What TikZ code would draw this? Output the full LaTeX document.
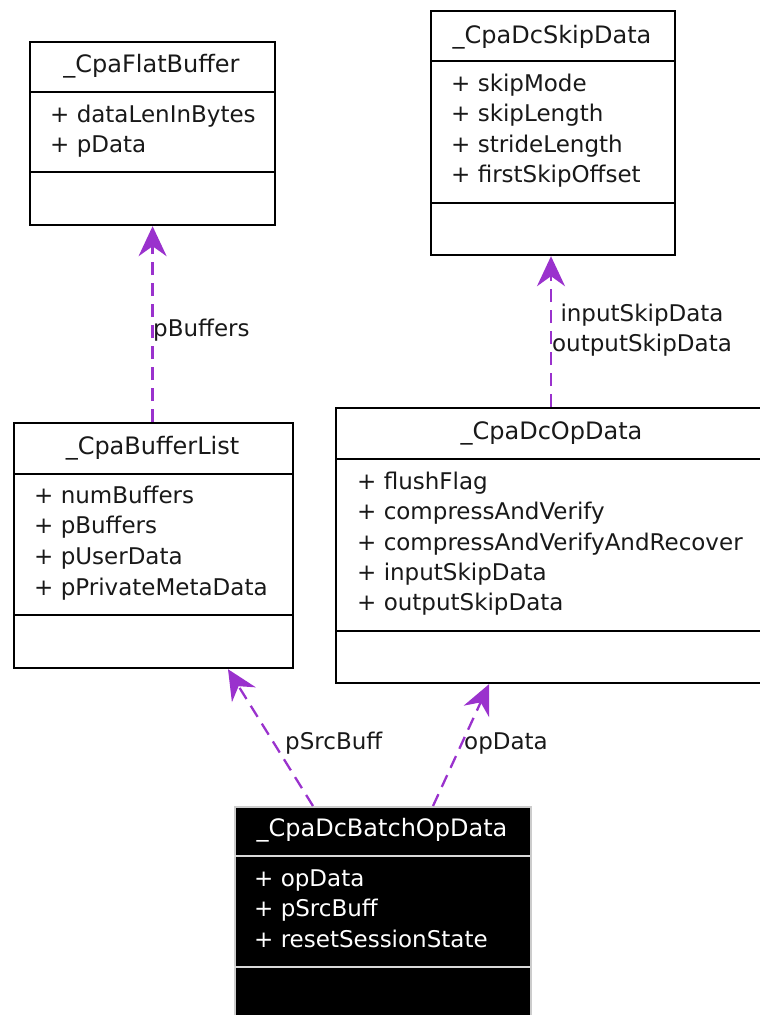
\documentclass[tikz,border=0pt]{standalone}
\usepackage{fontspec}
\setmainfont{DejaVu Sans}
\usetikzlibrary{arrows.meta,calc}
\definecolor{edgec}{RGB}{154,50,205}
\definecolor{inkc}{RGB}{25,25,25}
\begin{document}
\begin{tikzpicture}[x=1pt,y=-1pt,
  font=\fontsize{23}{30}\selectfont,
  classbox/.style={draw=black, line width=2.2pt, fill=white, inner sep=0pt, anchor=north west},
  darkbox/.style={draw=black!20, line width=1.5pt, fill=black, inner sep=0pt, anchor=north west},
  divider/.style={draw=black, line width=2.2pt},
  darkdivider/.style={draw=black!15, line width=2pt},
  txt/.style={inner sep=0pt, text height=17pt, text depth=5pt, text=inkc},
  member/.style={txt, anchor=west, align=left},
  title/.style={txt, anchor=center, font=\fontsize{24}{30}\selectfont},
  lbl/.style={inner sep=0pt, anchor=west, text height=17pt, text depth=5pt, text=inkc},
  dep/.style={draw=edgec, line width=2.3pt, dash pattern=on 13pt off 8pt,
    -{Stealth[length=30pt, width=28pt, inset=10pt]}}
]
\useasboundingbox (0,0) rectangle (760,1015);

% _CpaFlatBuffer
\node[classbox, minimum width=245pt, minimum height=183pt] (flat) at (29,41) {};
\draw[divider] (29,92) -- (274,92);
\draw[divider] (29,172) -- (274,172);
\node[title] (flatT) at (151.5,66) {\_CpaFlatBuffer};
\node[member] (flatM1) at (50,116) {+ dataLenInBytes};
\node[member] (flatM2) at (50,146) {+ pData};

% _CpaDcSkipData
\node[classbox, minimum width=244pt, minimum height=244pt] (skip) at (430,10) {};
\draw[divider] (430,61) -- (674,61);
\draw[divider] (430,203) -- (674,203);
\node[title] (skipT) at (552,37) {\_CpaDcSkipData};
\node[member] (skipM1) at (451,85) {+ skipMode};
\node[member] (skipM2) at (451,115) {+ skipLength};
\node[member] (skipM3) at (451,146) {+ strideLength};
\node[member] (skipM4) at (451,176) {+ firstSkipOffset};

% _CpaBufferList
\node[classbox, minimum width=279pt, minimum height=245pt] (list) at (13,422) {};
\draw[divider] (13,474) -- (292,474);
\draw[divider] (13,615) -- (292,615);
\node[title] (listT) at (152.5,448) {\_CpaBufferList};
\node[member] (listM1) at (34,497) {+ numBuffers};
\node[member] (listM2) at (34,527) {+ pBuffers};
\node[member] (listM3) at (34,558) {+ pUserData};
\node[member] (listM4) at (34,589) {+ pPrivateMetaData};

% _CpaDcOpData
\node[classbox, minimum width=432pt, minimum height=275pt] (dcop) at (335,407) {};
\draw[divider] (335,459) -- (767,459);
\draw[divider] (335,631) -- (767,631);
\node[title] (dcopT) at (551.5,433) {\_CpaDcOpData};
\node[member] (dcopM1) at (357,483) {+ flushFlag};
\node[member] (dcopM2) at (357,513) {+ compressAndVerify};
\node[member] (dcopM3) at (357,544) {+ compressAndVerifyAndRecover};
\node[member] (dcopM4) at (357,574) {+ inputSkipData};
\node[member] (dcopM5) at (357,604) {+ outputSkipData};

% _CpaDcBatchOpData
\node[darkbox, minimum width=296pt, minimum height=220pt] (batch) at (234,806) {};
\draw[darkdivider] (234,856) -- (530,856);
\draw[darkdivider] (234,967) -- (530,967);
\node[title, text=white] (batchT) at (382,830) {\_CpaDcBatchOpData};
\node[member, text=white] (batchM1) at (254,880) {+ opData};
\node[member, text=white] (batchM2) at (254,910) {+ pSrcBuff};
\node[member, text=white] (batchM3) at (254,941) {+ resetSessionState};

% connectors
\draw[dep] (list.north -| flat.south) -- (flat.south);
\node[lbl] (lblBuf) at (153,330) {pBuffers};

\draw[dep] ($(dcop.north west)+(216,0)$) -- ($(skip.south west)+(121,0)$);
\node[inner sep=0pt, align=center, text=inkc] (lblSkip) at (642,330) {inputSkipData\\outputSkipData};

\draw[dep] ($(batch.north west)+(79,0)$) -- ($(list.south west)+(215,0)$);
\node[lbl] (lblSrc) at (285,743) {pSrcBuff};

\draw[dep] ($(batch.north west)+(199,0)$) -- ($(dcop.south west)+(154,0)$);
\node[lbl] (lblOp) at (464,743) {opData};
\end{tikzpicture}
\end{document}
